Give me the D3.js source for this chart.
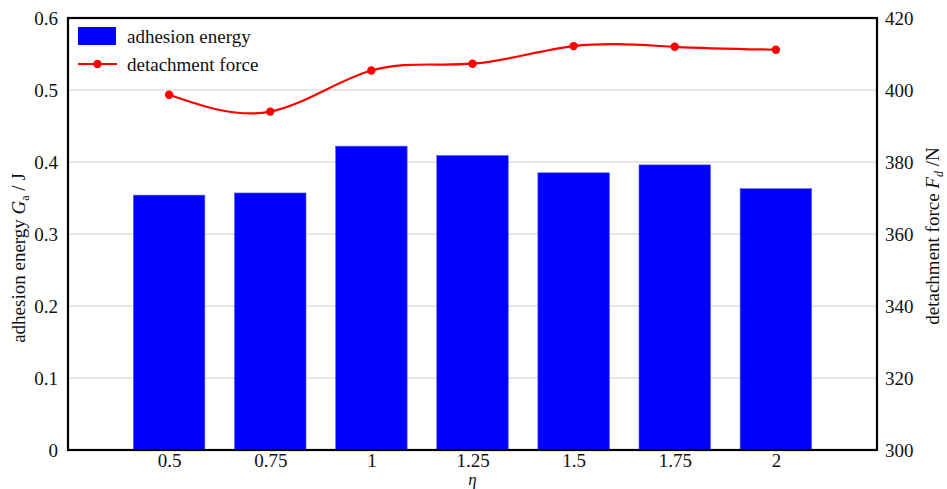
<!DOCTYPE html>
<html>
<head>
<meta charset="utf-8">
<script src="https://cdn.jsdelivr.net/npm/d3@7"></script>
<style>
  body { margin: 0; background: #fff; }
  text { font-family: "Liberation Serif", "Times New Roman", serif; fill: #111; }
</style>
</head>
<body>
<svg class="chart"></svg>
<script>
// Data
var etaValues = [0.5, 0.75, 1, 1.25, 1.5, 1.75, 2];
var etaLabels = ["0.5", "0.75", "1", "1.25", "1.5", "1.75", "2"];
var adhesionEnergy = [0.354, 0.357, 0.422, 0.409, 0.385, 0.396, 0.363];
var detachmentForce = [398.7, 394.0, 405.4, 407.3, 412.2, 412.0, 411.2];
var leftTicks = [0, 0.1, 0.2, 0.3, 0.4, 0.5, 0.6];
var rightTicks = [300, 320, 340, 360, 380, 400, 420];

var serif = "'Liberation Serif', 'Times New Roman', serif";

// Margins
var margin = { top: 18, right: 70, bottom: 39, left: 68 },
    width = 947 - margin.left - margin.right,
    height = 489 - margin.top - margin.bottom;

var svg = d3.select(".chart")
    .attr("width", 947)
    .attr("height", 489);

var chart = svg.append("g")
    .attr("transform", "translate(" + margin.left + "," + margin.top + ")");

// Scales
var x = d3.scaleLinear().domain([0.25, 2.25]).range([0, width]);
var y = d3.scaleLinear().domain([0, 0.6]).range([height, 0]);
var y2 = d3.scaleLinear().domain([300, 420]).range([height, 0]);
var barW = (x(0.75) - x(0.5)) * 0.707;

// Gridlines
chart.append("g")
    .selectAll("line")
    .data(leftTicks.slice(1, -1))
    .enter().append("line")
    .attr("x1", 0).attr("x2", width)
    .attr("y1", function (d) { return y(d); })
    .attr("y2", function (d) { return y(d); })
    .attr("stroke", "#cfcfcf")
    .attr("stroke-width", 1.2);

// Bars
chart.selectAll(".bar")
    .data(adhesionEnergy)
    .enter().append("rect")
    .attr("class", "bar")
    .attr("x", function (d, i) { return x(etaValues[i]) - barW / 2; })
    .attr("y", function (d) { return y(d); })
    .attr("width", barW)
    .attr("height", function (d) { return height - y(d); })
    .attr("fill", "#0000ff")
    .attr("stroke", "#5a5af0")
    .attr("stroke-width", 0.6);

// Force line
var line = d3.line()
    .x(function (d, i) { return x(etaValues[i]); })
    .y(function (d) { return y2(d); })
    .curve(d3.curveNatural);

chart.append("path")
    .datum(detachmentForce)
    .attr("d", line)
    .attr("fill", "none")
    .attr("stroke", "#ff0000")
    .attr("stroke-width", 2.2);

chart.selectAll(".dot")
    .data(detachmentForce)
    .enter().append("circle")
    .attr("class", "dot")
    .attr("cx", function (d, i) { return x(etaValues[i]); })
    .attr("cy", function (d) { return y2(d); })
    .attr("r", 4.2)
    .attr("fill", "#ff0000");

// Frame
chart.append("rect")
    .attr("width", width)
    .attr("height", height)
    .attr("fill", "none")
    .attr("stroke", "#000")
    .attr("stroke-width", 2.2);

// Axes (labels only, frame drawn above)
var yAxis = d3.axisLeft(y).tickValues(leftTicks).tickSize(0).tickPadding(10)
    .tickFormat(function (d) { return d === 0 ? "0" : d3.format(".1f")(d); });
var yAxis2 = d3.axisRight(y2).tickValues(rightTicks).tickSize(0).tickPadding(8);
var xAxis = d3.axisBottom(x).tickValues(etaValues).tickSize(0).tickPadding(3)
    .tickFormat(function (d, i) { return etaLabels[i]; });

[chart.append("g").call(yAxis),
 chart.append("g").attr("transform", "translate(" + width + ",0)").call(yAxis2),
 chart.append("g").attr("transform", "translate(0," + height + ")").call(xAxis)]
    .forEach(function (g) {
        g.attr("font-family", serif).attr("font-size", 19);
        g.select(".domain").remove();
        g.selectAll("text")
            .style("font-family", serif)
            .style("font-size", "19px")
            .attr("fill", "#111");
    });

// Axis titles
chart.append("text")
    .attr("x", x(1.25))
    .attr("y", height + 35)
    .attr("text-anchor", "middle")
    .style("font-size", "17px")
    .style("font-style", "italic")
    .text("η");

var leftTitle = svg.append("text")
    .attr("transform", "translate(25,258) rotate(-90)")
    .attr("text-anchor", "middle")
    .style("font-size", "19px");
leftTitle.append("tspan").text("adhesion energy ");
leftTitle.append("tspan").style("font-style", "italic").text("G");
leftTitle.append("tspan").attr("dy", 4).style("font-size", "12px").text("a");
leftTitle.append("tspan").attr("dy", -4).text(" / J");

var rightTitle = svg.append("text")
    .attr("transform", "translate(939,236) rotate(-90)")
    .attr("text-anchor", "middle")
    .style("font-size", "19px");
rightTitle.append("tspan").text("detachment force ");
rightTitle.append("tspan").style("font-style", "italic").text("F");
rightTitle.append("tspan").attr("dy", 4).style("font-size", "12px").style("font-style", "italic").text("d");
rightTitle.append("tspan").attr("dy", -4).text("  /N");

// Legend
var legend = chart.append("g").attr("transform", "translate(10,8)");
legend.append("rect")
    .attr("x", 0).attr("y", 1)
    .attr("width", 38).attr("height", 18)
    .attr("fill", "#0000ff");
legend.append("text")
    .attr("x", 49).attr("y", 17)
    .style("font-size", "19px")
    .text("adhesion energy");
legend.append("line")
    .attr("x1", 0).attr("x2", 39)
    .attr("y1", 38).attr("y2", 38)
    .attr("stroke", "#ff0000")
    .attr("stroke-width", 2.2);
legend.append("circle")
    .attr("cx", 19.5).attr("cy", 38).attr("r", 4.2)
    .attr("fill", "#ff0000");
legend.append("text")
    .attr("x", 49).attr("y", 45)
    .style("font-size", "19px")
    .text("detachment force");
</script>
</body>
</html>
